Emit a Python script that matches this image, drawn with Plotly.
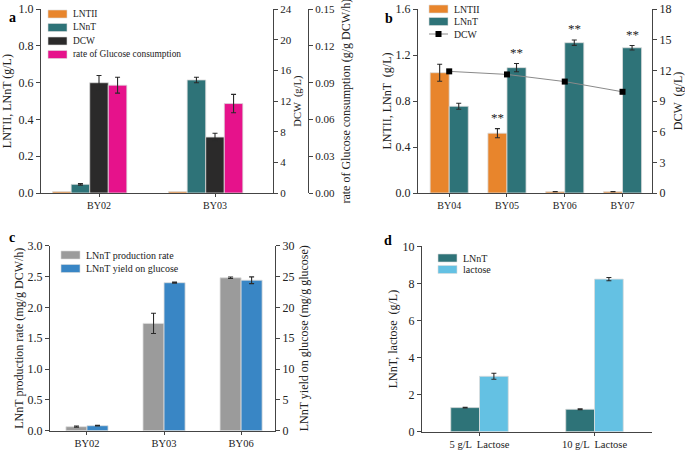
import plotly.graph_objects as go

# ---- panel a ----
a_strains = ["BY02", "BY03"]
a_lntii = [0.008, 0.008]
a_lnnt = [0.047, 0.615]
a_lnnt_err = [0.004, 0.015]
a_dcw = [14.4, 7.3]
a_dcw_err = [0.95, 0.5]
a_rate = [0.088, 0.073]
a_rate_err = [0.0065, 0.0075]

# ---- panel b ----
b_strains = ["BY04", "BY05", "BY06", "BY07"]
b_lntii = [1.046, 0.52, 0.012, 0.012]
b_lntii_err = [0.074, 0.04, 0, 0]
b_lnnt = [0.754, 1.09, 1.307, 1.263]
b_lnnt_err = [0.026, 0.036, 0.023, 0.02]
b_dcw = [11.9, 11.6, 10.9, 9.9]
b_stars_lntii = ["", "**", "", ""]
b_stars_lnnt = ["", "**", "**", "**"]

# ---- panel c ----
c_strains = ["BY02", "BY03", "BY06"]
c_rate = [0.065, 1.74, 2.48]
c_rate_err = [0.01, 0.165, 0.012]
c_yield = [0.81, 24.0, 24.4]
c_yield_err = [0.05, 0.1, 0.55]

# ---- panel d ----
d_conds = ["5 g/L  Lactose", "10 g/L  Lactose"]
d_lnnt = [1.30, 1.21]
d_lnnt_err = [0.02, 0.03]
d_lactose = [2.99, 8.23]
d_lactose_err = [0.16, 0.09]

ORANGE = "#E8852C"
TEAL = "#2E7378"
BLACK = "#2B2A2A"
MAGENTA = "#E6128B"
GRAY = "#9B9B9B"
BLUE = "#3986C5"
LIGHTBLUE = "#64C1E3"
FONT = "Liberation Serif"
EDGE = dict(color="#dcdcdc", width=0.8)
W, H = 685, 454


def err(arr):
    return dict(type="data", array=arr, color="#2a2a2a", thickness=1.1, width=2.5)


fig = go.Figure()

# panel a bars (explicit offsets so bars on three y axes sit side by side)
w = 0.16
fig.add_bar(x=a_strains, y=a_lntii, name="LNTII", marker=dict(color=ORANGE, line=EDGE),
            width=w, offset=-0.40, xaxis="x", yaxis="y")
fig.add_bar(x=a_strains, y=a_lnnt, name="LNnT", marker=dict(color=TEAL, line=EDGE),
            error_y=err(a_lnnt_err), width=w, offset=-0.24, xaxis="x", yaxis="y")
fig.add_bar(x=a_strains, y=a_dcw, name="DCW", marker=dict(color=BLACK, line=EDGE),
            error_y=err(a_dcw_err), width=w, offset=-0.08, xaxis="x", yaxis="y2")
fig.add_bar(x=a_strains, y=a_rate, name="rate of Glucose consumption",
            marker=dict(color=MAGENTA, line=EDGE), error_y=err(a_rate_err),
            width=w, offset=0.08, xaxis="x", yaxis="y3")

# panel b
wb = 0.33
fig.add_bar(x=b_strains, y=b_lntii, name="LNTII", marker=dict(color=ORANGE, line=EDGE),
            error_y=err(b_lntii_err), width=wb, offset=-wb, xaxis="x2", yaxis="y4")
fig.add_bar(x=b_strains, y=b_lnnt, name="LNnT", marker=dict(color=TEAL, line=EDGE),
            error_y=err(b_lnnt_err), width=wb, offset=0, xaxis="x2", yaxis="y4")
fig.add_scatter(x=b_strains, y=b_dcw, name="DCW", mode="lines+markers",
                line=dict(color="#8a8a8a", width=1),
                marker=dict(symbol="square", color="black", size=6),
                xaxis="x2", yaxis="y5")

# panel c
wc = 0.273
fig.add_bar(x=c_strains, y=c_rate, name="LNnT production rate", marker=dict(color=GRAY, line=EDGE),
            error_y=err(c_rate_err), width=wc, offset=-wc, xaxis="x3", yaxis="y6")
fig.add_bar(x=c_strains, y=c_yield, name="LNnT yield on glucose", marker=dict(color=BLUE, line=EDGE),
            error_y=err(c_yield_err), width=wc, offset=0, xaxis="x3", yaxis="y7")

# panel d
wd = 0.25
fig.add_bar(x=d_conds, y=d_lnnt, name="LNnT", marker=dict(color=TEAL, line=EDGE),
            error_y=err(d_lnnt_err), width=wd, offset=-wd, xaxis="x4", yaxis="y8")
fig.add_bar(x=d_conds, y=d_lactose, name="lactose", marker=dict(color=LIGHTBLUE, line=EDGE),
            error_y=err(d_lactose_err), width=wd, offset=0, xaxis="x4", yaxis="y8")

fig.update_traces(showlegend=False)

# significance stars in panel b
ann = []
shapes = []
for i, s in enumerate(b_stars_lntii):
    if s:
        ann.append(dict(x=i - wb / 2, y=b_lntii[i] + b_lntii_err[i] + 0.015, xref="x2", yref="y4",
                        text=s, showarrow=False, yanchor="bottom", font=dict(size=13, color="#222")))
for i, s in enumerate(b_stars_lnnt):
    if s:
        ann.append(dict(x=i + wb / 2, y=b_lnnt[i] + b_lnnt_err[i] + 0.015, xref="x2", yref="y4",
                        text=s, showarrow=False, yanchor="bottom", font=dict(size=13, color="#222")))

for lab, px, py in [("a", 7, 8), ("b", 389, 9), ("c", 7, 238), ("d", 388, 240)]:
    ann.append(dict(x=px / W, y=1 - py / H, xref="paper", yref="paper", text="<b>%s</b>" % lab,
                    showarrow=False, font=dict(size=14, color="black")))


# hand-drawn legends (rectangular swatches, tight rows like the original)
def legend(items, x0, y0, dy, fsize, sw=19, sh=8):
    for k, (label, color, kind) in enumerate(items):
        yc = y0 + k * dy
        if kind == "bar":
            shapes.append(dict(type="rect", xref="paper", yref="paper",
                               x0=x0 / W, x1=(x0 + sw) / W,
                               y0=1 - (yc + sh / 2) / H, y1=1 - (yc - sh / 2) / H,
                               fillcolor=color, line=dict(color="#dcdcdc", width=0.6)))
        else:
            shapes.append(dict(type="line", xref="paper", yref="paper",
                               x0=x0 / W, x1=(x0 + sw) / W, y0=1 - yc / H, y1=1 - yc / H,
                               line=dict(color="#8a8a8a", width=1)))
            shapes.append(dict(type="rect", xref="paper", yref="paper",
                               x0=(x0 + sw / 2 - 3) / W, x1=(x0 + sw / 2 + 3) / W,
                               y0=1 - (yc + 3) / H, y1=1 - (yc - 3) / H,
                               fillcolor="black", line=dict(width=0)))
        ann.append(dict(x=(x0 + sw + 4) / W, y=1 - yc / H, xref="paper", yref="paper",
                        text=label, showarrow=False, xanchor="left", yanchor="middle",
                        font=dict(size=fsize, color="#222")))


legend([("LNTII", ORANGE, "bar"), ("LNnT", TEAL, "bar"), ("DCW", BLACK, "bar"),
        ("rate of Glucose consumption", MAGENTA, "bar")], 48, 14, 13.5, 9.4)
legend([("LNTII", ORANGE, "bar"), ("LNnT", TEAL, "bar"), ("DCW", BLACK, "line")],
       429, 9, 12.5, 9.8)
legend([("LNnT production rate", GRAY, "bar"), ("LNnT yield on glucose", BLUE, "bar")],
       61, 255, 13.5, 10)
legend([("LNnT", TEAL, "bar"), ("lactose", LIGHTBLUE, "bar")], 438, 258, 11.5, 10)

axcol = "#444"
base_y = dict(showline=True, linecolor=axcol, linewidth=1, ticks="outside", ticklen=4,
              tickcolor=axcol, showgrid=False, zeroline=False, automargin=False,
              tickfont=dict(size=12, color="#222"), title_font=dict(size=12, color="#222"))
base_x = dict(type="category", showline=True, linecolor=axcol, linewidth=1, ticks="outside",
              ticklen=3, tickcolor=axcol, showgrid=False, automargin=False,
              tickfont=dict(size=10, color="#222"))

fig.update_layout(
    width=W, height=H, margin=dict(l=0, r=0, t=0, b=0),
    paper_bgcolor="white", plot_bgcolor="white",
    font=dict(family=FONT, color="#222"),
    barmode="overlay", annotations=ann, shapes=shapes, showlegend=False,
    # a
    xaxis=dict(base_x, domain=[41 / W, 273 / W], anchor="y", range=[-0.5, 1.5]),
    yaxis=dict(base_y, domain=[1 - 193 / H, 1 - 9.2 / H], anchor="x", range=[0, 1],
               dtick=0.2, tickformat=".1f", title=dict(text="LNTII, LNnT (g/L)", standoff=6)),
    yaxis2=dict(base_y, overlaying="y", side="right", anchor="x", range=[0, 24], dtick=4,
                tickfont=dict(size=11), title=dict(text="DCW  (g/L)", font=dict(size=10.5), standoff=0)),
    yaxis3=dict(base_y, overlaying="y", side="right", anchor="free", position=308 / W,
                range=[0, 0.15], dtick=0.03, tickformat=".2f", tickfont=dict(size=11),
                title=dict(text="rate of Glucose consumption (g/g DCW/h)", standoff=7)),
    # b
    xaxis2=dict(base_x, domain=[418 / W, 652 / W], anchor="y4", range=[-0.54, 3.51]),
    yaxis4=dict(base_y, domain=[1 - 193 / H, 1 - 9 / H], anchor="x2", range=[0, 1.6],
                dtick=0.4, tickformat=".1f", title=dict(text="LNTII, LNnT  (g/L)", standoff=1)),
    yaxis5=dict(base_y, overlaying="y4", side="right", anchor="x2", range=[0, 18], dtick=3,
                title=dict(text="DCW  (g/L)", standoff=2)),
    # c
    xaxis3=dict(base_x, domain=[50 / W, 275 / W], anchor="y6", range=[-0.48, 2.44],
                tickfont=dict(size=10.5)),
    yaxis6=dict(base_y, domain=[1 - 430.7 / H, 1 - 245.7 / H], anchor="x3", range=[0, 3],
                dtick=0.5, tickformat=".1f", title=dict(text="LNnT production rate (mg/g DCW/h)", standoff=1)),
    yaxis7=dict(base_y, overlaying="y6", side="right", anchor="x3", range=[0, 30], dtick=5,
                title=dict(text="LNnT yield on glucose (mg/g glucose)", standoff=6)),
    # d
    xaxis4=dict(base_x, domain=[422 / W, 652 / W], anchor="y8", range=[-0.5, 1.5],
                tickfont=dict(size=10.5)),
    yaxis8=dict(base_y, domain=[1 - 431.7 / H, 1 - 246.3 / H], anchor="x4", range=[0, 10],
                dtick=2, title=dict(text="LNnT, lactose  (g/L)", standoff=2)),
)

# the page's default body margin would push the 685x454 figure out of the window
fig.write_html("out.html", config={"displayModeBar": False},
               post_script="document.body.style.margin = '0';")
